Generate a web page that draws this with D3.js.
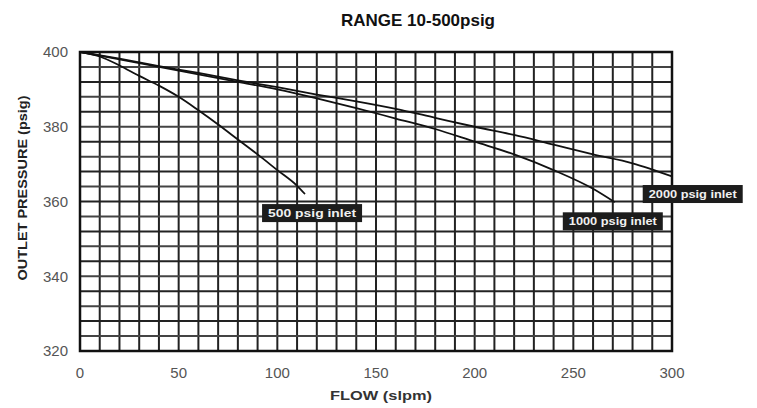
<!DOCTYPE html>
<html>
<head>
<meta charset="utf-8">
<script src="https://cdn.jsdelivr.net/npm/d3@7"></script>
<style>
  body { margin: 0; background: #fff; }
  svg { font-family: Arial, "Liberation Sans", sans-serif; }
</style>
</head>
<body>
<svg id="chart" width="757" height="408"></svg>
<script>
// flow (slpm) vs outlet pressure (psig)
var flow500 = [0, 10, 20, 30, 40, 50, 60, 70, 80, 90, 100, 110, 114];
var psig500 = [400, 398.8, 396.4, 393.6, 391, 388, 384.4, 380.6, 376.6, 372.6, 368.4, 364.2, 362];

var flow1000 = [0, 20, 40, 60, 80, 100, 120, 140, 160, 180, 200, 220, 240, 260, 271];
var psig1000 = [400, 398, 396, 394, 392, 390, 387.6, 385, 382.2, 379.4, 376, 372.6, 368.4, 363.4, 359.8];

var flow2000 = [0, 20, 40, 60, 80, 100, 120, 140, 160, 180, 200, 220, 240, 260, 280, 300];
var psig2000 = [400, 398.2, 396.2, 394.4, 392.4, 390.6, 388.6, 386.8, 384.8, 382.4, 380, 377.8, 375.2, 372.6, 370.2, 366.7];

var xTicks = [0, 50, 100, 150, 200, 250, 300];
var yTicks = [320, 340, 360, 380, 400];

var series = [
    {name: "500 psig inlet", x: flow500, y: psig500, lx: 117.6, ly: 356.9},
    {name: "1000 psig inlet", x: flow1000, y: psig1000, lx: 270, ly: 354.7},
    {name: "2000 psig inlet", x: flow2000, y: psig2000, lx: 310.5, ly: 362}
];

var svg = d3.select("#chart");

var x = d3.scaleLinear().domain([0, 300]).range([80, 672]);
var y = d3.scaleLinear().domain([320, 400]).range([351, 52]);

// grid: every 10 slpm, every 4 psig
var grid = svg.append("g").attr("stroke", "#222").attr("stroke-width", 2);

grid.selectAll(".vx")
    .data(d3.range(0, 301, 10))
    .enter().append("line")
    .attr("x1", d => x(d)).attr("x2", d => x(d))
    .attr("y1", y(400)).attr("y2", y(320));

grid.selectAll(".hy")
    .data(d3.range(320, 401, 4))
    .enter().append("line")
    .attr("x1", x(0)).attr("x2", x(300))
    .attr("y1", d => y(d)).attr("y2", d => y(d))
    .attr("stroke", d => (d % 8 == 0) ? "#222" : "#444");

svg.append("rect")
    .attr("x", x(0)).attr("y", y(400))
    .attr("width", x(300) - x(0)).attr("height", y(320) - y(400))
    .attr("fill", "none").attr("stroke", "#111").attr("stroke-width", 2.5);

// curves
var line = d3.line()
    .x(d => x(d[0]))
    .y(d => y(d[1]))
    .curve(d3.curveMonotoneX);

svg.selectAll(".curve")
    .data(series)
    .enter().append("path")
    .attr("d", s => line(s.x.map((v, i) => [v, s.y[i]])))
    .attr("fill", "none")
    .attr("stroke", "#111")
    .attr("stroke-width", 1.8);

// labels in dark boxes
var lab = svg.selectAll(".lab")
    .data(series)
    .enter().append("g")
    .attr("transform", s => "translate(" + x(s.lx) + "," + y(s.ly) + ")");

lab.append("rect")
    .attr("x", -50).attr("y", -9)
    .attr("width", 100).attr("height", 18)
    .attr("fill", "#1c1c1c");

lab.append("text")
    .attr("text-anchor", "middle")
    .attr("dy", "0.35em")
    .attr("fill", "#f0f0f0")
    .attr("font-size", 11)
    .attr("font-weight", "bold")
    .attr("textLength", 88)
    .attr("lengthAdjust", "spacingAndGlyphs")
    .text(s => s.name);

// tick labels
svg.selectAll(".xt")
    .data(xTicks)
    .enter().append("text")
    .attr("x", d => x(d))
    .attr("y", 378)
    .attr("text-anchor", "middle")
    .attr("font-size", 15)
    .attr("fill", "#555")
    .text(d => d);

svg.selectAll(".yt")
    .data(yTicks)
    .enter().append("text")
    .attr("x", 68)
    .attr("y", d => y(d))
    .attr("dy", "0.35em")
    .attr("text-anchor", "end")
    .attr("font-size", 15)
    .attr("fill", "#555")
    .text(d => d);

// titles
svg.append("text")
    .attr("x", 418).attr("y", 26)
    .attr("text-anchor", "middle")
    .attr("font-size", 17)
    .attr("font-weight", "bold")
    .attr("fill", "#111")
    .text("RANGE 10-500psig");

svg.append("text")
    .attr("x", 381).attr("y", 400)
    .attr("text-anchor", "middle")
    .attr("font-size", 13)
    .attr("font-weight", "bold")
    .attr("fill", "#333")
    .attr("textLength", 102)
    .attr("lengthAdjust", "spacingAndGlyphs")
    .text("FLOW (slpm)");

svg.append("text")
    .attr("transform", "translate(27,188) rotate(-90)")
    .attr("text-anchor", "middle")
    .attr("font-size", 12)
    .attr("font-weight", "bold")
    .attr("fill", "#222")
    .attr("textLength", 185)
    .attr("lengthAdjust", "spacingAndGlyphs")
    .text("OUTLET PRESSURE (psig)");
</script>
</body>
</html>
